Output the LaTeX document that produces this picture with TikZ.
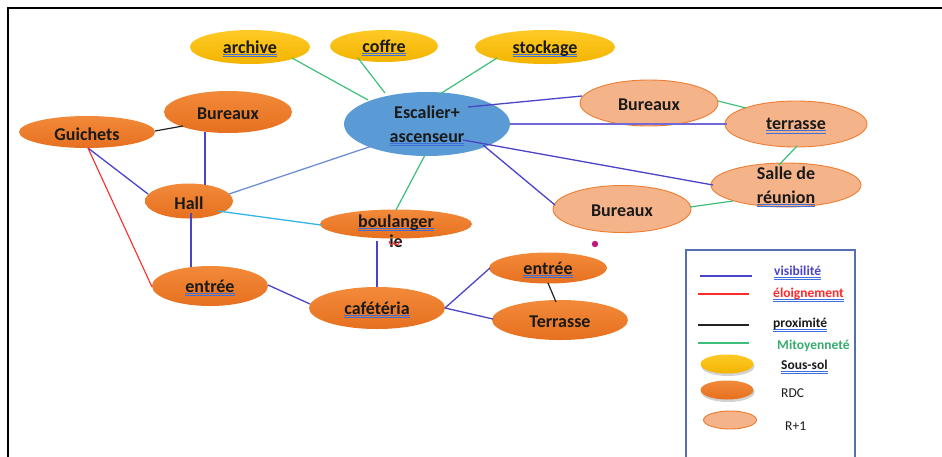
\documentclass[tikz,border=0pt]{standalone}
\usepackage{fontspec}
\setmainfont{Carlito}
\usetikzlibrary{shapes.geometric,shadows}

\definecolor{gold}{HTML}{FFC000}
\definecolor{goldlow}{HTML}{F2B400}
\definecolor{rdctop}{HTML}{F28A3A}
\definecolor{rdclow}{HTML}{E6701F}
\definecolor{rdcedge}{HTML}{ED7D31}
\definecolor{upfill}{HTML}{F5B38A}
\definecolor{stair}{HTML}{5B9BD5}
\definecolor{vis}{HTML}{4A44C8}
\definecolor{visthick}{HTML}{7468D6}
\definecolor{vislight}{HTML}{6F8ED6}
\definecolor{cyanline}{HTML}{33B5E8}
\definecolor{mito}{HTML}{3DBF7A}
\definecolor{far}{HTML}{FF2A2A}
\definecolor{near}{HTML}{222222}
\definecolor{ulblue}{HTML}{3F6FD8}
\definecolor{legframe}{HTML}{5470B0}
\definecolor{dotcol}{HTML}{C0157A}
\definecolor{txt}{HTML}{1A1A1A}

% double spell-check style underline
\newcommand\dul[1]{\setbox0=\hbox{#1}\rlap{\color{ulblue}\rule[-1.6pt]{\wd0}{0.9pt}}\rlap{\color{ulblue}\rule[-3.8pt]{\wd0}{0.9pt}}\box0}
\newcommand\nodefont{\fontsize{18}{23.5}\selectfont\bfseries}
\newcommand\legfont{\fontsize{13.5}{15}\selectfont}

\tikzset{
  basell/.style={ellipse, inner sep=0, draw=none},
  sousol/.style={basell, top color=gold!85!white, bottom color=goldlow},
  rdc/.style={basell, top color=rdctop, bottom color=rdclow},
  rplus/.style={basell, fill=upfill, draw=rdcedge, line width=0.9pt},
  stairs/.style={basell, fill=stair},
  lbl/.style={inner sep=0, align=center, font=\nodefont, text=txt, yshift=-2pt},
  leglbl/.style={inner sep=0, anchor=west, font=\legfont, text=txt},
  visl/.style={draw=vis, line width=1.3pt},
  visthk/.style={draw=visthick, line width=2.2pt},
  visli/.style={draw=vislight, line width=1.3pt},
  cyl/.style={draw=cyanline, line width=1.3pt},
  mitl/.style={draw=mito, line width=1.2pt},
  farl/.style={draw=far, line width=1.1pt},
  nearl/.style={draw=near, line width=1.2pt},
}

\begin{document}
\begin{tikzpicture}[x=1pt,y=-1pt]
\useasboundingbox (0,0) rectangle (942,456);
\fill[white] (0,0) rectangle (942,456);

% outer frame (top and left edges visible)
\draw[black, line width=2pt] (8,460) -- (8,8) -- (946,8);

% basement
\node[sousol, minimum width=120, minimum height=34] (arch) at (250,47) {};
\node[sousol, minimum width=108, minimum height=32] (coff) at (384,46) {};
\node[sousol, minimum width=140, minimum height=34] (stock) at (545,47) {};

% stair core
\node[stairs, minimum width=166, minimum height=64] (esc) at (427,124) {};

% ground floor
\node[rdc, minimum width=128, minimum height=42] (burA) at (228,112) {};
\node[rdc, minimum width=136, minimum height=32] (guich) at (87,132) {};
\node[rdc, minimum width=88, minimum height=35] (hall) at (189,201) {};
\node[rdc, minimum width=152, minimum height=29] (boul) at (396,224) {};
\node[rdc, minimum width=116, minimum height=40] (entL) at (210,286) {};
\node[rdc, minimum width=136, minimum height=42] (cafe) at (377,308) {};
\node[rdc, minimum width=118, minimum height=31] (entR) at (548,268) {};
\node[rdc, minimum width=136, minimum height=40] (terr) at (560,320) {};

% first floor
\node[rplus, minimum width=138, minimum height=46] (bur1) at (649,103) {};
\node[rplus, minimum width=142, minimum height=46] (terr1) at (796,124) {};
\node[rplus, minimum width=150, minimum height=44] (salle) at (786,185) {};
\node[rplus, minimum width=138, minimum height=47] (bur2) at (622,209) {};

% connectors
\draw[mitl] ([shift={(42,11)}]arch.center) -- ([shift={(-59,-24)}]esc.center);
\draw[mitl] ([shift={(-26,12)}]coff.center) -- ([shift={(-42,-31)}]esc.center);
\draw[mitl] ([shift={(-48,11)}]stock.center) -- ([shift={(13,-30)}]esc.center);
\draw[visl] ([shift={(41,-17)}]esc.center) -- ([shift={(-67,-7)}]bur1.center);
\draw[visthk] ([shift={(83,0)}]esc.center) -- ([shift={(-69,0)}]terr1.center);
\draw[visl] ([shift={(36,16)}]esc.center) -- ([shift={(-73,0)}]salle.center);
\draw[visl] ([shift={(56,21)}]esc.center) -- ([shift={(-67,-4)}]bur2.center);
\draw[visli] ([shift={(-55,22)}]esc.center) -- ([shift={(40,-7)}]hall.center);
\draw[mitl] ([shift={(-2,31)}]esc.center) -- ([shift={(0,-14)}]boul.center);
\draw[mitl] ([shift={(69,-2)}]bur1.center) -- ([shift={(-50,-16)}]terr1.center);
\draw[mitl] ([shift={(1,22)}]terr1.center) -- ([shift={(-7,-20)}]salle.center);
\draw[mitl] ([shift={(68,-2)}]bur2.center) -- ([shift={(-53,16)}]salle.center);
\draw[nearl] ([shift={(68,-1)}]guich.center) -- ([shift={(-45,14)}]burA.center);
\draw[visl] ([shift={(-23,20)}]burA.center) -- ([shift={(16,-16)}]hall.center);
\draw[visl] ([shift={(1,16)}]guich.center) -- ([shift={(-41,-7)}]hall.center);
\draw[farl] ([shift={(1,16)}]guich.center) -- ([shift={(-58,1)}]entL.center);
\draw[visl] ([shift={(2,12)}]hall.center) -- ([shift={(-19,-19)}]entL.center);
\draw[cyl] ([shift={(29,10)}]hall.center) -- ([shift={(-75,1)}]boul.center);
\draw[visl] ([shift={(58,-1)}]entL.center) -- ([shift={(-67,-4)}]cafe.center);
\draw[visl] ([shift={(-19,17)}]boul.center) -- ([shift={(0,-21)}]cafe.center);
\draw[visl] ([shift={(68,0)}]cafe.center) -- ([shift={(-58,0)}]entR.center);
\draw[visl] ([shift={(68,0)}]cafe.center) -- ([shift={(-67,-1)}]terr.center);
\draw[nearl] ([shift={(0,15)}]entR.center) -- ([shift={(-4,-18)}]terr.center);

% labels
\node[lbl] (archT) at (arch) {\dul{archive}};
\node[lbl] (coffT) at (coff) {\dul{coffre}};
\node[lbl] (stockT) at (stock) {\dul{stockage}};
\node[lbl] (escT) at (esc) {Escalier+\\\dul{ascenseur}};
\node[lbl] (burAT) at (burA) {Bureaux};
\node[lbl] (guichT) at (guich) {Guichets};
\node[lbl] (hallT) at (hall) {Hall};
\node[lbl, font=\fontsize{18}{20}\selectfont\bfseries] (boulT) at ([shift={(0,5)}]boul.center) {\dul{boulanger}\\ie};
\node[lbl] (entLT) at (entL) {\dul{entrée}};
\node[lbl] (cafeT) at (cafe) {\dul{cafétéria}};
\node[lbl] (entRT) at (entR) {\dul{entrée}};
\node[lbl] (terrT) at (terr) {Terrasse};
\node[lbl] (bur1T) at (bur1) {Bureaux};
\node[lbl] (terr1T) at (terr1) {\dul{terrasse}};
\node[lbl] (salleT) at (salle) {Salle de\\\dul{réunion}};
\node[lbl] (bur2T) at (bur2) {Bureaux};

% spelling mark and stray dot
\draw[far, line width=0.9pt, line cap=round] (389,241) .. controls (390,246) and (393,246) .. (394,242) .. controls (395,246) and (399,246) .. (400,241);
\fill[dotcol] (595,244) circle (3.2);

% legend
\draw[legframe, line width=1.2pt] (686,460) -- (686,250) -- (855,250) -- (855,460);
\draw[visl] (700,276) -- (752,276);
\draw[farl] (698,294) -- (749,294);
\draw[nearl] (698,325) -- (749,325);
\draw[mitl] (698,343) -- (749,343);
\node[sousol, minimum width=53, minimum height=19, drop shadow={opacity=0.35, shadow xshift=1pt, shadow yshift=-2.5pt}] (legS) at (727,364) {};
\node[rdc, minimum width=53, minimum height=19, drop shadow={opacity=0.35, shadow xshift=1pt, shadow yshift=-2.5pt}] (legR) at (727,390) {};
\node[rplus, minimum width=53, minimum height=18] (legU) at (730,420) {};
\node[leglbl, font=\legfont\bfseries, text=vis] (legA) at (774,273) {\dul{visibilité}};
\node[leglbl, font=\legfont\bfseries, text=far] (legB) at (773,295) {\dul{éloignement}};
\node[leglbl, font=\legfont\bfseries] (legC) at (773,325) {\dul{proximité}};
\node[leglbl, font=\legfont\bfseries, text=mito!90!black] (legD) at (777,346) {Mitoyenneté};
\node[leglbl, font=\legfont\bfseries] (legE) at (781,367) {\dul{Sous-sol}};
\node[leglbl] (legF) at (781,393) {RDC};
\node[leglbl] (legG) at (785,426) {R+1};
\end{tikzpicture}
\end{document}
